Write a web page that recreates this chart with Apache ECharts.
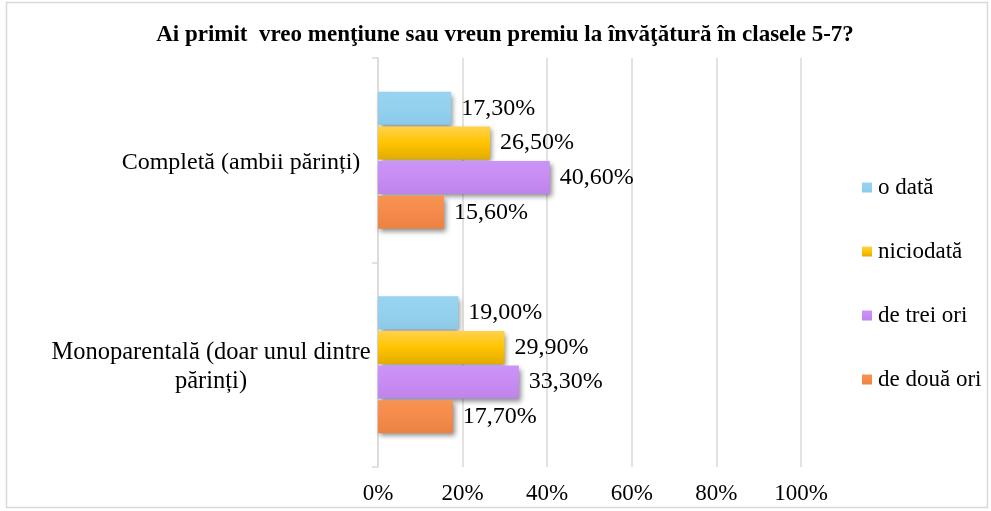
<!DOCTYPE html>
<html><head><meta charset="utf-8">
<script src="https://cdn.jsdelivr.net/npm/echarts@6/dist/echarts.min.js"></script>
<style>html,body{margin:0;padding:0;background:#fff}#c{width:991px;height:511px}</style>
</head><body><div id="c"></div>
<script>
const title = 'Ai primit  vreo menţiune sau vreun premiu la învăţătură în clasele 5-7?';
const categories = ['Completă (ambii părinți)', 'Monoparentală (doar unul dintre\npărinți)'];
const seriesNames = ['o dată', 'niciodată', 'de trei ori', 'de două ori'];
const oData = [17.3, 19.0];
const niciodata = [26.5, 29.9];
const deTreiOri = [40.6, 33.3];
const deDouaOri = [15.6, 17.7];
const xTicks = [0, 20, 40, 60, 80, 100];

const font = '"Liberation Serif", "Times New Roman", serif';
const colors = [
  ['#98d4f1', '#93d1ef', '#8cc9e8'],
  ['#ffd24d', '#ffc400', '#e3ab00'],
  ['#cc94f6', '#c88cf3', '#bd84ea'],
  ['#f79352', '#f58b4a', '#ea8242']
];
function grad(c){
  return new echarts.graphic.LinearGradient(0,0,0,1,[{offset:0,color:c[0]},{offset:0.5,color:c[1]},{offset:1,color:c[2]}]);
}
const values = [oData, niciodata, deTreiOri, deDouaOri];
const chart = echarts.init(document.getElementById('c'));
chart.setOption({
  animation:false,
  title:{text:title,left:500,top:19,textAlign:'center',textStyle:{fontFamily:font,fontWeight:'bold',fontSize:23,color:'#000'}},
  graphic:[{type:'rect',shape:{x:6.5,y:2.5,width:981,height:505},style:{fill:'none',stroke:'#d9d9d9',lineWidth:1.5},silent:true}],
  legend:{orient:'vertical',left:857,top:171,itemWidth:10,itemHeight:10,itemGap:41,icon:'rect',
    textStyle:{fontFamily:font,fontSize:23,color:'#000',padding:[0,0,0,1]},data:seriesNames},
  grid:{left:378,right:190,top:58,bottom:44,containLabel:false},
  xAxis:{type:'value',min:0,max:100,interval:20,
    axisLabel:{formatter:v=>v+'%',fontFamily:font,fontSize:23,color:'#000',margin:15},
    axisLine:{show:false},axisTick:{show:false},
    splitLine:{show:true,lineStyle:{color:'#d9d9d9',width:1.5}}},
  yAxis:{type:'category',inverse:true,data:categories,
    axisLine:{show:true,lineStyle:{color:'#d9d9d9',width:1.5}},
    axisTick:{show:true,length:6,lineStyle:{color:'#d9d9d9',width:1.5}},
    axisLabel:{margin:137,align:'center',fontFamily:font,fontSize:24,color:'#000',lineHeight:29,padding:[4,0,0,0],
      formatter:(v,i)=> i===1 ? '{b|'+v.split('\n').join('}\n{b|')+'}' : '{a|'+v+'}',
      rich:{a:{fontFamily:font,fontSize:24,color:'#000'},b:{fontFamily:font,fontSize:24.5,color:'#000',lineHeight:29,padding:[0,60,0,0]}}}},
  series: seriesNames.map((n,k)=>({
    name:n,type:'bar',data:values[k],barWidth:33,barGap:'5%',
    itemStyle:{color:grad(colors[k]),shadowColor:'rgba(0,0,0,0.45)',shadowBlur:5,shadowOffsetX:2,shadowOffsetY:3},
    label:{show:true,position:'right',distance:10,fontFamily:font,fontSize:24,color:'#000',
      formatter:p=>p.value.toFixed(2).replace('.',',')+'%'}
  }))
});
</script></body></html>
